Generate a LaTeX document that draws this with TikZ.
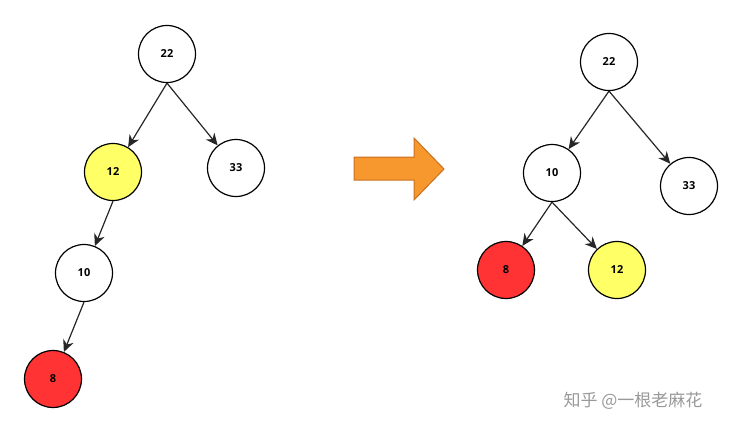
\documentclass[tikz,border=0pt]{standalone}
\usepackage{fontspec}
\setmainfont{Open Sans}
\newfontfamily\cjk{Noto Sans CJK SC}
\usetikzlibrary{arrows.meta}
\definecolor{yel}{HTML}{FFFF66}
\definecolor{rd}{HTML}{FF3333}
\definecolor{org}{HTML}{F7982F}
\definecolor{orgd}{HTML}{C87020}
\begin{document}
\begin{tikzpicture}[x=1pt,y=-1pt,
  nd/.style={circle,draw=black,line width=1.2pt,minimum size=57pt,inner sep=0pt,font=\fontsize{11}{13}\selectfont\bfseries,fill=white},
  ed/.style={-{Stealth[length=12pt,width=11pt]},line width=1.2pt,black!85}]
\useasboundingbox (0,0) rectangle (743,432);
\node[nd] (a22) at (167,54) {22};
\node[nd,fill=yel] (a12) at (113,172) {12};
\node[nd] (a33) at (236,168) {33};
\node[nd] (a10) at (84,273) {10};
\node[nd,fill=rd] (a8) at (53,379) {8};
\draw[ed] (a22.south) -- (a12);
\draw[ed] (a22.south) -- (a33);
\draw[ed] (a12.south) -- (a10);
\draw[ed] (a10.south) -- (a8);
\node[nd] (b22) at (609,62) {22};
\node[nd] (b10) at (552,173) {10};
\node[nd] (b33) at (689,186) {33};
\node[nd,fill=rd] (b8) at (506,270) {8};
\node[nd,fill=yel] (b12) at (617,270) {12};
\draw[ed] (b22.south) -- (b10);
\draw[ed] (b22.south) -- (b33);
\draw[ed] (b10.south) -- (b8);
\draw[ed] (b10.south) -- (b12);
\draw[draw=orgd,fill=org,line width=1pt] (354,157) -- (414,157) -- (414,138) -- (444,169) -- (414,200) -- (414,180) -- (354,180) -- cycle;
\node[font=\cjk\fontsize{17}{19}\selectfont,text=black!40] (wm) at (633,401) {知乎 @一根老麻花};
\end{tikzpicture}
\end{document}
